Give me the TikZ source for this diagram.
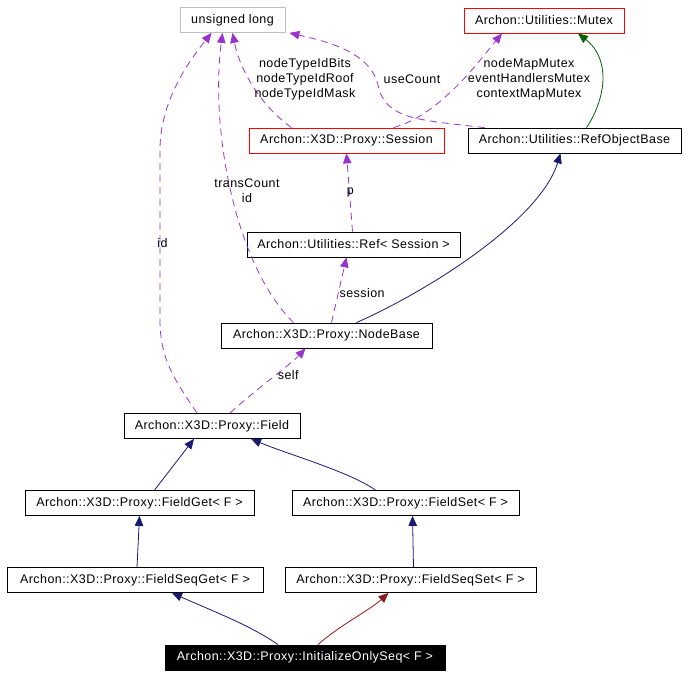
\documentclass[tikz,border=0pt]{standalone}
\usepackage{fontspec}
\setmainfont[LetterSpace=3.5]{Liberation Sans}
\usetikzlibrary{arrows.meta}
\definecolor{dxnavy}{RGB}{25,25,112}
\definecolor{dxred}{RGB}{139,26,26}
\definecolor{dxgreen}{RGB}{0,100,0}
\definecolor{dxuse}{RGB}{154,50,205}
\definecolor{dxgray}{RGB}{191,191,191}
\definecolor{dxbox}{RGB}{255,0,0}

\begin{document}
\begin{tikzpicture}[
  x=1pt, y=-1pt, line width=0.8pt,
  font=\fontsize{12.5}{14}\selectfont,
  cls/.style={draw=black, fill=white, inner sep=0pt, minimum height=25pt},
  hot/.style={cls, draw=dxbox},
  inh/.style={-{Triangle[length=10pt,width=8.5pt]}, dxnavy},
  use/.style={-{Triangle[length=10pt,width=8.5pt]}, dxuse, dash pattern=on 7pt off 5pt},
  lbl/.style={align=center, inner sep=0pt, text=black, font=\fontsize{12.5}{15}\selectfont}
]
\useasboundingbox (0,0) rectangle (688,677);

\node[cls, draw=dxgray, minimum width=105pt] (ulong) at (232.5,20) {unsigned long};
\node[hot, minimum width=160pt] (mutex) at (544,20.5) {Archon::Utilities::Mutex};
\node[hot, minimum width=195pt] (session) at (346.5,140.5) {Archon::X3D::Proxy::Session};
\node[cls, minimum width=213pt] (refobj) at (574.5,140.5) {Archon::Utilities::RefObjectBase};
\node[cls, minimum width=213pt] (ref) at (353.5,244.5) {Archon::Utilities::Ref< Session >};
\node[cls, minimum width=211pt] (nodebase) at (326.5,335.5) {Archon::X3D::Proxy::NodeBase};
\node[cls, minimum width=176pt] (field) at (212,426) {Archon::X3D::Proxy::Field};
\node[cls, minimum width=229pt] (fieldget) at (139.5,503) {Archon::X3D::Proxy::FieldGet< F >};
\node[cls, minimum width=227pt] (fieldset) at (405.5,503) {Archon::X3D::Proxy::FieldSet< F >};
\node[cls, minimum width=256pt] (seqget) at (135,580) {Archon::X3D::Proxy::FieldSeqGet< F >};
\node[cls, minimum width=251pt] (seqset) at (410.5,580) {Archon::X3D::Proxy::FieldSeqSet< F >};
\node[cls, fill=black, text=white, minimum width=280pt] (initseq) at (305,657.5)
  {Archon::X3D::Proxy::InitializeOnlySeq< F >};

% inheritance
\draw[inh] ([xshift=-27pt]initseq.north) .. controls (250,625) and (210,610) .. ([xshift=37pt]seqget.south);
\draw[inh, dxred] ([xshift=13pt]initseq.north) .. controls (340,625) and (370,610) .. ([xshift=-22pt]seqset.south);
\draw[inh] ([xshift=2pt]seqget.north) -- (fieldget.south);
\draw[inh] ([xshift=3pt]seqset.north) -- ([xshift=7pt]fieldset.south);
\draw[inh] ([xshift=15pt]fieldget.north) -- ([xshift=-18pt]field.south);
\draw[inh] ([xshift=-30pt]fieldset.north) .. controls (350,472) and (290,455) .. ([xshift=39pt]field.south);
\draw[inh] ([xshift=30pt]nodebase.north) .. controls (430,290) and (540,220) .. ([xshift=-14pt]refobj.south);
\draw[inh, dxgreen] ([xshift=12pt]refobj.north) .. controls (605,100) and (612,60) .. ([xshift=34pt]mutex.south);

% usage
\draw[use] ([xshift=18pt]field.north) .. controls (255,390) and (290,365) .. node[lbl, pos=0.55, right=2pt] (lself) {self} ([xshift=-21pt]nodebase.south);
\draw[use] ([xshift=-15pt]field.north) .. controls (175,380) and (160,360) .. (160,320)
  -- node[lbl, pos=0.45, right=-3pt] (lid) {id} (160,150) .. controls (160,100) and (190,60) .. ([xshift=-21pt]ulong.south);
\draw[use] ([xshift=-33pt]nodebase.north) .. controls (235,265) and (210,130) .. ([xshift=-10pt]ulong.south);
\node[lbl] (ltrans) at (247,191) {transCount\\id};
\draw[use] ([xshift=5pt]nodebase.north) -- node[lbl, pos=0.45, right=1pt] (lsession) {session} ([xshift=-7pt]ref.south);
\draw[use] ([xshift=-1pt]ref.north) -- node[lbl, pos=0.5, right=-3pt] (lp) {p} (session.south);
\draw[use] ([xshift=-55pt]session.north) .. controls (260,105) and (240,70) .. (ulong.south);
\node[lbl] (ltype) at (305,79) {nodeTypeIdBits\\nodeTypeIdRoof\\nodeTypeIdMask};
\draw[use] ([xshift=47pt]session.north) .. controls (440,115) and (480,60) .. ([xshift=-42pt]mutex.south);
\node[lbl] (lmutex) at (529,79) {nodeMapMutex\\eventHandlersMutex\\contextMapMutex};
\draw[use] ([xshift=-90pt]refobj.north) .. controls (420,120) and (385,120) .. (378,85)
  .. controls (370,50) and (320,40) .. ([xshift=4pt]ulong.south east);
\node[lbl] (lcount) at (412,79) {useCount};
\end{tikzpicture}
\end{document}
